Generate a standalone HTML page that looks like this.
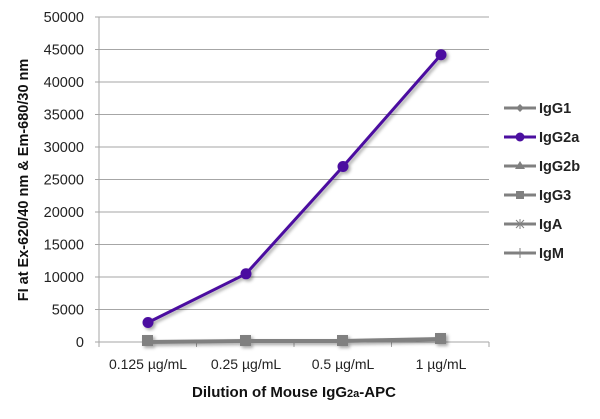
<!DOCTYPE html>
<html><head><style>body{margin:0;background:#fff}</style></head><body>
<svg width="600" height="414" xmlns="http://www.w3.org/2000/svg" font-family="Liberation Sans, sans-serif">
<defs><filter id="sh"><feDropShadow dx="2" dy="2" stdDeviation="1.5" flood-color="#000" flood-opacity="0.35"/></filter></defs>
<g stroke="#a6a6a6" stroke-width="1">
<line x1="95" y1="17" x2="489" y2="17"/><line x1="95" y1="49.5" x2="489" y2="49.5"/><line x1="95" y1="82" x2="489" y2="82"/><line x1="95" y1="114.5" x2="489" y2="114.5"/><line x1="95" y1="147" x2="489" y2="147"/><line x1="95" y1="179.5" x2="489" y2="179.5"/><line x1="95" y1="212" x2="489" y2="212"/><line x1="95" y1="244.5" x2="489" y2="244.5"/><line x1="95" y1="277" x2="489" y2="277"/><line x1="95" y1="309.5" x2="489" y2="309.5"/><line x1="95" y1="342" x2="489" y2="342"/>
<line x1="99" y1="17" x2="99" y2="347"/>
<line x1="196.5" y1="342" x2="196.5" y2="347"/><line x1="294" y1="342" x2="294" y2="347"/><line x1="391.5" y1="342" x2="391.5" y2="347"/><line x1="489" y1="342" x2="489" y2="347"/>
</g>
<g font-size="14.5" fill="#222" text-anchor="end">
<text x="84" y="22">50000</text><text x="84" y="54.5">45000</text><text x="84" y="87">40000</text><text x="84" y="119.5">35000</text><text x="84" y="152">30000</text><text x="84" y="184.5">25000</text><text x="84" y="217">20000</text><text x="84" y="249.5">15000</text><text x="84" y="282">10000</text><text x="84" y="314.5">5000</text><text x="84" y="347">0</text>
</g>
<g font-size="14" fill="#222" text-anchor="middle">
<text x="148" y="369">0.125 µg/mL</text><text x="246" y="369">0.25 µg/mL</text><text x="343" y="369">0.5 µg/mL</text><text x="441" y="369">1 µg/mL</text>
</g>
<text x="294" y="397" font-size="15" font-weight="bold" text-anchor="middle" fill="#111">Dilution of Mouse IgG<tspan font-size="11">2a</tspan>-APC</text>
<text transform="translate(28,180) rotate(-90)" font-size="14.5" font-weight="bold" text-anchor="middle" fill="#111">FI at Ex-620/40 nm &amp; Em-680/30 nm</text>
<g filter="url(#sh)">
<polyline points="148,342 246,341 343,341 441,339" fill="none" stroke="#808080" stroke-width="4"/>
<rect x="142" y="335" width="11" height="11" fill="#808080"/><rect x="240" y="335" width="11" height="11" fill="#808080"/><rect x="337" y="335" width="11" height="11" fill="#808080"/><rect x="435" y="333" width="11" height="11" fill="#808080"/>
<polyline points="148,322.5 246,273.8 343,166.5 441,54.7" fill="none" stroke="#4b0fa0" stroke-width="3"/>
<circle cx="148" cy="322.5" r="5.5" fill="#4b0fa0"/><circle cx="246" cy="273.8" r="5.5" fill="#4b0fa0"/><circle cx="343" cy="166.5" r="5.5" fill="#4b0fa0"/><circle cx="441" cy="54.7" r="5.5" fill="#4b0fa0"/>
</g>
<g stroke="#808080" stroke-width="3">
<line x1="504" y1="108" x2="536" y2="108"/><line x1="504" y1="137" x2="536" y2="137" stroke="#4b0fa0"/><line x1="504" y1="166" x2="536" y2="166"/><line x1="504" y1="195" x2="536" y2="195"/><line x1="504" y1="224" x2="536" y2="224"/><line x1="504" y1="253" x2="536" y2="253"/>
</g>
<polygon points="520,104 524,108 520,112 516,108" fill="#808080"/>
<circle cx="520" cy="137" r="4.5" fill="#4b0fa0"/>
<polygon points="520,161 525,169 515,169" fill="#808080"/>
<rect x="516" y="191" width="8" height="8" fill="#808080"/>
<g stroke="#808080" stroke-width="1"><line x1="516" y1="220" x2="524" y2="228"/><line x1="516" y1="228" x2="524" y2="220"/><line x1="520" y1="219" x2="520" y2="229"/><line x1="520" y1="248" x2="520" y2="258"/></g>
<g font-size="14.5" font-weight="bold" fill="#222">
<text x="539" y="113">IgG1</text><text x="539" y="142">IgG2a</text><text x="539" y="171">IgG2b</text><text x="539" y="200">IgG3</text><text x="539" y="229">IgA</text><text x="539" y="258">IgM</text>
</g>
</svg>
</body></html>
